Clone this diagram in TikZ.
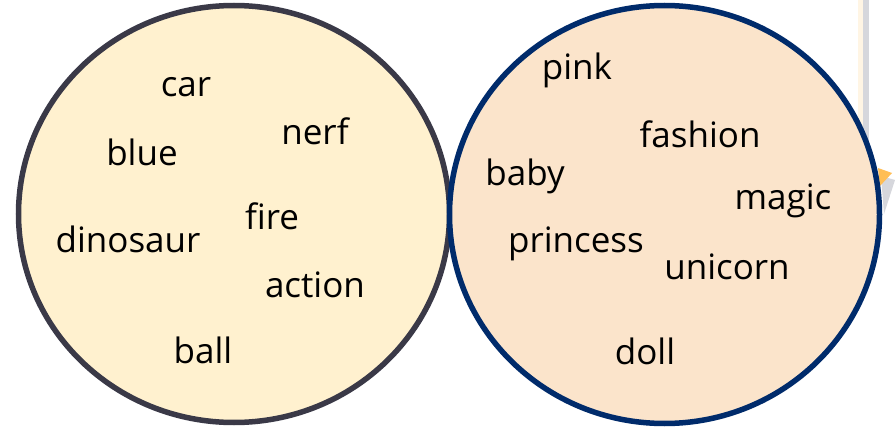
\documentclass[tikz,border=0pt]{standalone}
\usepackage{fontspec}
\setmainfont{Open Sans}
\begin{document}
\begin{tikzpicture}[x=1pt,y=-1pt,
  word/.style={anchor=base, inner sep=0pt, font=\fontsize{35}{42}\selectfont, text=black},
  setA/.style={draw=setAline, fill=setAfill, line width=5.5pt},
  setB/.style={draw=setBline, fill=setBfill, line width=5.5pt}]
\definecolor{setAfill}{HTML}{FFF1CF}
\definecolor{setAline}{HTML}{3A3947}
\definecolor{setBfill}{HTML}{FBE4CB}
\definecolor{setBline}{HTML}{002B6B}
\definecolor{panelgrey}{HTML}{D6D7DC}
\definecolor{panelcream}{HTML}{FFF5E4}
\definecolor{tabmark}{HTML}{FFBE55}

% canvas
\useasboundingbox (0,0) rectangle (895,428);
\fill[white] (0,0) rectangle (895,428);

% panel edge and marker at the right border
\fill[panelcream] (858,0) rectangle (863,150);
\fill[panelgrey] (863,0) rectangle (869,150);
\fill[panelgrey] (881,176) -- (895,180) -- (884,214) -- cycle;
\fill[tabmark] (878,168) -- (892,173) -- (880,186) -- cycle;

% the two sets
\path[setA] (234,214) ellipse [x radius=215.5, y radius=208.5];
\path[setB] (664.5,214.5) ellipse [x radius=215, y radius=209];

% words of the first set
\node[word] (car)      at (186,97)  {car};
\node[word] (blue)     at (142,165) {blue};
\node[word] (nerf)     at (315,144) {nerf};
\node[word] (dinosaur) at (128,252) {dinosaur};
\node[word] (fire)     at (272,229) {fire};
\node[word] (action)   at (315,297) {action};
\node[word] (ball)     at (203,363) {ball};

% words of the second set
\node[word] (pink)     at (577,80)  {pink};
\node[word] (fashion)  at (700,147) {fashion};
\node[word] (baby)     at (525,185) {baby};
\node[word] (magic)    at (783,209) {magic};
\node[word] (princess) at (576,252) {princess};
\node[word] (unicorn)  at (727,279) {unicorn};
\node[word] (doll)     at (645,364) {doll};
\end{tikzpicture}
\end{document}
